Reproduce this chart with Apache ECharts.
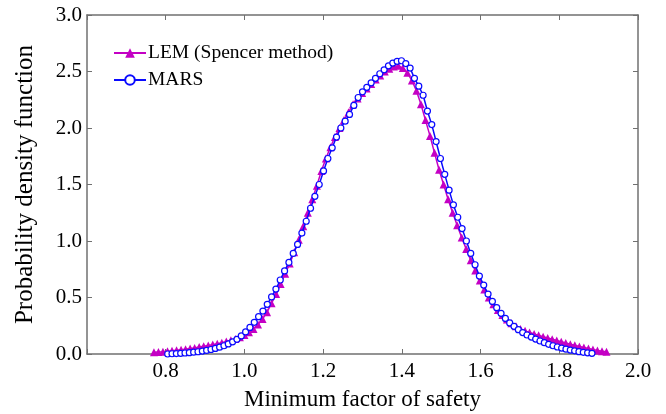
<!DOCTYPE html>
<html>
<head>
<meta charset="utf-8">
<script src="https://cdn.jsdelivr.net/npm/echarts@6/dist/echarts.min.js"></script>
<style>html,body{margin:0;padding:0;background:#fff}#c{width:666px;height:414px}</style>
</head>
<body>
<div id="c"></div>
<script>
var xTickLabels = ['0.8','1.0','1.2','1.4','1.6','1.8','2.0'];
var yTickLabels = ['0.0','0.5','1.0','1.5','2.0','2.5','3.0'];
var seriesNames = ['LEM (Spencer method)', 'MARS'];

var lemX = [0.7700,0.7815,0.7930,0.8045,0.8160,0.8275,0.8390,0.8505,0.8620,0.8735,
0.8850,0.8965,0.9080,0.9195,0.9310,0.9425,0.9540,0.9655,0.9770,0.9885,
1.0000,1.0115,1.0230,1.0345,1.0460,1.0575,1.0690,1.0805,1.0920,1.1035,
1.1150,1.1265,1.1380,1.1495,1.1610,1.1725,1.1840,1.1955,1.2070,1.2185,
1.2300,1.2415,1.2530,1.2645,1.2760,1.2875,1.2990,1.3105,1.3220,1.3335,
1.3450,1.3565,1.3680,1.3795,1.3910,1.4025,1.4140,1.4255,1.4370,1.4485,
1.4600,1.4715,1.4830,1.4945,1.5060,1.5175,1.5290,1.5405,1.5520,1.5635,
1.5750,1.5865,1.5980,1.6095,1.6210,1.6325,1.6440,1.6555,1.6670,1.6785,
1.6900,1.7015,1.7130,1.7245,1.7360,1.7475,1.7590,1.7705,1.7820,1.7935,
1.8050,1.8165,1.8280,1.8395,1.8510,1.8625,1.8740,1.8855,1.8970,1.9085,1.9200];
var lemY = [0.015,0.018,0.021,0.025,0.029,0.033,0.038,0.043,0.048,0.054,
0.061,0.068,0.075,0.083,0.091,0.100,0.110,0.121,0.133,0.148,
0.168,0.192,0.222,0.260,0.310,0.370,0.450,0.530,0.620,0.710,
0.800,0.900,1.010,1.130,1.250,1.370,1.490,1.620,1.730,1.830,
1.920,2.000,2.070,2.140,2.210,2.260,2.310,2.350,2.390,2.430,
2.465,2.500,2.525,2.545,2.550,2.530,2.490,2.420,2.330,2.210,
2.070,1.930,1.780,1.630,1.500,1.370,1.250,1.140,1.030,0.930,
0.830,0.740,0.650,0.570,0.500,0.440,0.390,0.345,0.305,0.272,
0.245,0.222,0.205,0.190,0.177,0.165,0.153,0.142,0.131,0.120,
0.109,0.098,0.087,0.077,0.067,0.057,0.048,0.040,0.032,0.025,0.019];

var marsX = [0.805,0.816,0.827,0.838,0.849,0.860,0.871,0.882,0.893,0.904,
0.915,0.926,0.937,0.948,0.959,0.970,0.981,0.992,1.003,1.014,
1.025,1.036,1.047,1.058,1.069,1.080,1.091,1.102,1.113,1.124,
1.135,1.146,1.157,1.168,1.179,1.190,1.201,1.212,1.223,1.234,
1.245,1.256,1.267,1.278,1.289,1.300,1.311,1.322,1.333,1.344,
1.355,1.366,1.377,1.388,1.399,1.410,1.421,1.432,1.443,1.454,
1.465,1.476,1.487,1.498,1.509,1.520,1.531,1.542,1.553,1.564,
1.575,1.586,1.597,1.608,1.619,1.630,1.641,1.652,1.663,1.674,
1.685,1.696,1.707,1.718,1.729,1.740,1.751,1.762,1.773,1.784,
1.795,1.806,1.817,1.828,1.839,1.850,1.861,1.872,1.883];
var marsY = [0.000,0.002,0.004,0.006,0.009,0.012,0.016,0.020,0.026,0.032,
0.040,0.049,0.060,0.073,0.089,0.108,0.130,0.160,0.195,0.235,
0.280,0.330,0.380,0.440,0.505,0.575,0.655,0.735,0.810,0.890,
0.970,1.070,1.175,1.290,1.395,1.500,1.620,1.730,1.825,1.920,
2.000,2.060,2.120,2.200,2.270,2.320,2.360,2.400,2.440,2.480,
2.515,2.550,2.575,2.590,2.595,2.570,2.530,2.440,2.370,2.290,
2.150,2.030,1.880,1.730,1.590,1.450,1.320,1.210,1.110,1.000,
0.890,0.790,0.690,0.610,0.530,0.465,0.410,0.360,0.315,0.275,
0.245,0.215,0.190,0.168,0.150,0.132,0.115,0.100,0.086,0.073,
0.062,0.052,0.043,0.035,0.028,0.021,0.015,0.010,0.006];

function pairs(xs, ys){ var out=[]; for (var i=0;i<xs.length;i++) out.push([xs[i], ys[i]]); return out; }

var FONT = '"Liberation Serif", "Times New Roman", serif';
var AX = '#707070';
var chart = echarts.init(document.getElementById('c'), null, {renderer:'canvas'});
function fmtX(v){ var s=v.toFixed(1); return xTickLabels.indexOf(s)>=0 ? s : ''; }
function fmtY(v){ var s=v.toFixed(1); return yTickLabels.indexOf(s)>=0 ? s : ''; }
var option = {
  animation:false,
  backgroundColor:'#fff',
  grid:{left:87, right:28, top:15, bottom:60, containLabel:false, outerBoundsMode:'none'},
  legend:{
    left:108, top:38, orient:'vertical', itemGap:7, itemWidth:32, itemHeight:12,
    data:seriesNames,
    textStyle:{fontFamily:FONT, fontSize:19.5, color:'#000', padding:[0,0,0,-3]}
  },
  xAxis:[{
    type:'value', min:0.6, max:2.0, interval:0.2, position:'bottom',
    name:'Minimum factor of safety', nameLocation:'middle', nameGap:34,
    nameTextStyle:{fontFamily:FONT, fontSize:23, color:'#000'},
    axisLine:{show:true, onZero:false, lineStyle:{color:AX, width:1.5}},
    axisTick:{show:true, inside:true, length:5, lineStyle:{color:AX}},
    axisLabel:{formatter:fmtX, fontFamily:FONT, fontSize:21, color:'#000', margin:7},
    splitLine:{show:false}
  },{
    type:'value', min:0.6, max:2.0, interval:0.2, position:'top',
    axisLine:{show:true, onZero:false, lineStyle:{color:AX, width:1.5}},
    axisTick:{show:true, inside:true, length:5, lineStyle:{color:AX}},
    axisLabel:{show:false}, splitLine:{show:false}
  }],
  yAxis:[{
    type:'value', min:0, max:3.0, interval:0.5, position:'left',
    name:'Probability density function', nameLocation:'middle', nameGap:49, nameRotate:90,
    nameTextStyle:{fontFamily:FONT, fontSize:25, color:'#000'},
    axisLine:{show:true, onZero:false, lineStyle:{color:AX, width:1.5}},
    axisTick:{show:true, inside:true, length:5, lineStyle:{color:AX}},
    axisLabel:{formatter:fmtY, fontFamily:FONT, fontSize:21, color:'#000', margin:5},
    splitLine:{show:false}
  },{
    type:'value', min:0, max:3.0, interval:0.5, position:'right',
    axisLine:{show:true, onZero:false, lineStyle:{color:AX, width:1.5}},
    axisTick:{show:true, inside:true, length:5, lineStyle:{color:AX}},
    axisLabel:{show:false}, splitLine:{show:false}
  }],
  series:[{
    name:seriesNames[0], type:'line', data:pairs(lemX, lemY),
    symbol:'triangle', symbolSize:8, showAllSymbol:true,
    lineStyle:{color:'#c400c4', width:1.5},
    itemStyle:{color:'#c400c4', borderColor:'#c400c4', borderWidth:0},
    z:2
  },{
    name:seriesNames[1], type:'line', data:pairs(marsX, marsY),
    symbol:'circle', symbolSize:6, showAllSymbol:true,
    lineStyle:{color:'#0a0aff', width:1.5},
    itemStyle:{color:'#ffffff', borderColor:'#0a0aff', borderWidth:1.2},
    z:3
  }]
};
chart.setOption(option);
</script>
</body>
</html>
